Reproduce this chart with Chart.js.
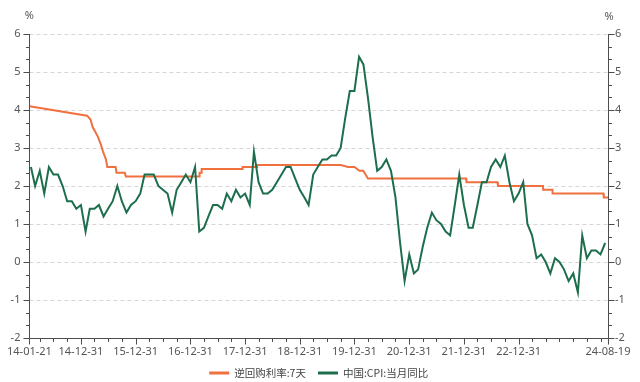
<!DOCTYPE html>
<html><head><meta charset="utf-8">
<script src="https://cdn.jsdelivr.net/npm/chart.js@4/dist/chart.umd.min.js"></script>
<style>html,body{margin:0;padding:0;background:#fff}#wrap{width:640px;height:382px;position:relative}</style>
</head><body><div id="wrap"><canvas id="c" width="640" height="382"></canvas></div>
<script>
const seriesNames = ['逆回购利率:7天', '中国:CPI:当月同比'];
const unitLabel = '%';

const repoDates = ['2014-01-21','2015-02-10','2015-03-05','2015-03-19','2015-04-09','2015-04-23','2015-05-12','2015-05-28','2015-06-16','2015-06-25',
  '2015-08-20','2015-08-25','2015-10-20','2015-10-27','2017-02-28','2017-03-02','2017-03-14','2017-03-16','2017-12-13','2017-12-14',
  '2018-03-21','2018-03-22','2019-10-01','2019-11-18','2019-12-31','2020-02-03','2020-02-28','2020-03-30','2022-01-14','2022-01-17',
  '2022-08-12','2022-08-15','2023-06-12','2023-06-13','2023-08-14','2023-08-15','2024-07-19','2024-07-22','2024-08-19'];
const repoValues = [4.10,3.85,3.75,3.55,3.40,3.30,3.10,2.90,2.70,2.50,
  2.50,2.35,2.35,2.25,2.25,2.35,2.35,2.45,2.45,2.50,
  2.50,2.55,2.55,2.50,2.50,2.40,2.40,2.20,2.20,2.10,
  2.10,2.00,2.00,1.90,1.90,1.80,1.80,1.70,1.70];

const cpiMonths = [
  '2014-01','2014-02','2014-03','2014-04','2014-05','2014-06','2014-07','2014-08','2014-09','2014-10','2014-11','2014-12',
  '2015-01','2015-02','2015-03','2015-04','2015-05','2015-06','2015-07','2015-08','2015-09','2015-10','2015-11','2015-12',
  '2016-01','2016-02','2016-03','2016-04','2016-05','2016-06','2016-07','2016-08','2016-09','2016-10','2016-11','2016-12',
  '2017-01','2017-02','2017-03','2017-04','2017-05','2017-06','2017-07','2017-08','2017-09','2017-10','2017-11','2017-12',
  '2018-01','2018-02','2018-03','2018-04','2018-05','2018-06','2018-07','2018-08','2018-09','2018-10','2018-11','2018-12',
  '2019-01','2019-02','2019-03','2019-04','2019-05','2019-06','2019-07','2019-08','2019-09','2019-10','2019-11','2019-12',
  '2020-01','2020-02','2020-03','2020-04','2020-05','2020-06','2020-07','2020-08','2020-09','2020-10','2020-11','2020-12',
  '2021-01','2021-02','2021-03','2021-04','2021-05','2021-06','2021-07','2021-08','2021-09','2021-10','2021-11','2021-12',
  '2022-01','2022-02','2022-03','2022-04','2022-05','2022-06','2022-07','2022-08','2022-09','2022-10','2022-11','2022-12',
  '2023-01','2023-02','2023-03','2023-04','2023-05','2023-06','2023-07','2023-08','2023-09','2023-10','2023-11','2023-12',
  '2024-01','2024-02','2024-03','2024-04','2024-05','2024-06','2024-07'];
const cpiValues = [
  2.5,2.0,2.4,1.8,2.5,2.3,2.3,2.0,1.6,1.6,1.4,1.5,
  0.8,1.4,1.4,1.5,1.2,1.4,1.6,2.0,1.6,1.3,1.5,1.6,
  1.8,2.3,2.3,2.3,2.0,1.9,1.8,1.3,1.9,2.1,2.3,2.1,
  2.5,0.8,0.9,1.2,1.5,1.5,1.4,1.8,1.6,1.9,1.7,1.8,
  1.5,2.9,2.1,1.8,1.8,1.9,2.1,2.3,2.5,2.5,2.2,1.9,
  1.7,1.5,2.3,2.5,2.7,2.7,2.8,2.8,3.0,3.8,4.5,4.5,
  5.4,5.2,4.3,3.3,2.4,2.5,2.7,2.4,1.7,0.5,-0.5,0.2,
  -0.3,-0.2,0.4,0.9,1.3,1.1,1.0,0.8,0.7,1.5,2.3,1.5,
  0.9,0.9,1.5,2.1,2.1,2.5,2.7,2.5,2.8,2.1,1.6,1.8,
  2.1,1.0,0.7,0.1,0.2,0.0,-0.3,0.1,0.0,-0.2,-0.5,-0.3,
  -0.8,0.7,0.1,0.3,0.3,0.2,0.5];

const xTickDates = ['2014-01-21','2014-12-31','2015-12-31','2016-12-31','2017-12-31','2018-12-31','2019-12-31','2020-12-31','2021-12-31','2022-12-31','2024-08-19'];
const yTicks = [-2,-1,0,1,2,3,4,5,6];

const seriesColors = ['#F0703F', '#1D6E4C'];
const axisColor = '#4d4d4d';
const textColor = '#555555';

function dayNum(s) {
  const p = s.split('-').map(Number);
  return Date.UTC(p[0], p[1] - 1, p[2]) / 864e5;
}
function monthEnd(s) {
  const p = s.split('-').map(Number);
  return Date.UTC(p[0], p[1], 0) / 864e5;
}
const xMin = dayNum(xTickDates[0]);
const xMax = dayNum(xTickDates[xTickDates.length - 1]);
const xLabelMap = {};
xTickDates.forEach(d => { xLabelMap[dayNum(d)] = d.slice(2); });

const tickFont = { family: '"Noto Sans", "Open Sans", sans-serif', size: 11 };

const decor = {
  id: 'decor',
  beforeDatasetsDraw(chart) {
    const { ctx, chartArea: a, scales } = chart;
    const y = scales.y;
    ctx.save();
    ctx.strokeStyle = '#d6d6d6';
    ctx.lineWidth = 1;
    ctx.setLineDash([4, 3]);
    yTicks.forEach(v => {
      if (v === y.min) return;
      const py = Math.round(y.getPixelForValue(v)) + 0.5;
      ctx.beginPath(); ctx.moveTo(a.left, py); ctx.lineTo(a.right, py); ctx.stroke();
    });
    ctx.restore();
  },
  afterDatasetsDraw(chart) {
    const { ctx, chartArea: a, scales } = chart;
    const x = scales.x, y = scales.y;
    const L = Math.round(a.left) + 0.5, R = Math.round(a.right) + 0.5, B = Math.round(a.bottom) + 0.5;
    const T = Math.round(y.getPixelForValue(y.max));
    ctx.save();
    ctx.strokeStyle = axisColor;
    ctx.lineWidth = 1;
    ctx.beginPath();
    ctx.moveTo(L, T); ctx.lineTo(L, B);
    ctx.moveTo(R, T); ctx.lineTo(R, B);
    ctx.moveTo(L, B); ctx.lineTo(R, B);
    ctx.stroke();
    // y ticks (major + 2 minor per unit)
    ctx.beginPath();
    for (let k = 0; k <= (y.max - y.min) * 3; k++) {
      const v = y.min + k / 3;
      const py = Math.round(y.getPixelForValue(v)) + 0.5;
      const len = (k % 3 === 0) ? 6 : 3.5;
      ctx.moveTo(L - len, py); ctx.lineTo(L, py);
      ctx.moveTo(R, py); ctx.lineTo(R + len, py);
    }
    // x ticks: quarterly minor, labelled major
    const majors = xTickDates.map(dayNum);
    majors.forEach(v => {
      const px = Math.round(x.getPixelForValue(v)) + 0.5;
      ctx.moveTo(px, B); ctx.lineTo(px, B + 6);
    });
    for (let yr = 2014; yr <= 2024; yr++) {
      for (const m of [3, 6, 9, 12]) {
        const v = Date.UTC(yr, m, 0) / 864e5;
        if (v <= xMin || v >= xMax || majors.includes(v)) continue;
        const px = Math.round(x.getPixelForValue(v)) + 0.5;
        ctx.moveTo(px, B); ctx.lineTo(px, B + 3.5);
      }
    }
    ctx.stroke();
    // unit labels
    ctx.fillStyle = textColor;
    ctx.font = '11px "Noto Sans", sans-serif';
    ctx.textAlign = 'center';
    ctx.textBaseline = 'middle';
    ctx.fillText(unitLabel, a.left, 16);
    ctx.fillText(unitLabel, a.right + 1, 17);
    // legend
    ctx.font = '10.5px "Noto Sans CJK SC", sans-serif';
    const lineLen = 20, gapText = 5, gapItem = 12;
    const ws = chart.data.datasets.map(d => ctx.measureText(d.label).width);
    const total = ws.reduce((s, w) => s + lineLen + gapText + w, 0) + gapItem * (ws.length - 1);
    let cx = (a.left + a.right) / 2 - total / 2;
    const ly = 373;
    ctx.textAlign = 'left';
    ctx.fillStyle = '#444';
    chart.data.datasets.forEach((d, i) => {
      ctx.strokeStyle = d.borderColor;
      ctx.lineWidth = 3;
      ctx.beginPath(); ctx.moveTo(cx, ly); ctx.lineTo(cx + lineLen, ly); ctx.stroke();
      ctx.fillText(d.label, cx + lineLen + gapText, ly);
      cx += lineLen + gapText + ws[i] + gapItem;
    });
    ctx.restore();
  }
};

new Chart(document.getElementById('c'), {
  type: 'line',
  data: {
    datasets: [
      { label: seriesNames[0], data: repoDates.map((d, i) => ({ x: dayNum(d), y: repoValues[i] })),
        borderColor: seriesColors[0], backgroundColor: seriesColors[0], borderWidth: 2, pointRadius: 0, tension: 0, order: 1 },
      { label: seriesNames[1], data: cpiMonths.map((m, i) => ({ x: monthEnd(m), y: cpiValues[i] })),
        borderColor: seriesColors[1], backgroundColor: seriesColors[1], borderWidth: 2, pointRadius: 0, tension: 0, order: 0 }
    ]
  },
  options: {
    responsive: false,
    animation: false,
    events: [],
    layout: { padding: { top: 34, bottom: 24, left: 0, right: 0 } },
    plugins: { legend: { display: false }, tooltip: { enabled: false } },
    scales: {
      x: {
        type: 'linear', min: xMin, max: xMax,
        afterBuildTicks: s => { s.ticks = xTickDates.map(d => ({ value: dayNum(d) })); },
        afterFit: s => { s.height = 20; },
        grid: { display: false, drawTicks: false },
        border: { display: false },
        ticks: { autoSkip: false, maxRotation: 0, minRotation: 0, padding: 7, color: textColor, font: tickFont,
          callback: v => xLabelMap[v] || '' }
      },
      y: {
        position: 'left', min: -2, max: 6,
        afterBuildTicks: s => { s.ticks = yTicks.map(v => ({ value: v })); },
        afterFit: s => { s.width = 24; },
        grid: { display: false, drawTicks: false },
        border: { display: false },
        ticks: { padding: 9, color: textColor, font: tickFont }
      },
      y2: {
        position: 'right', min: -2, max: 6,
        afterBuildTicks: s => { s.ticks = yTicks.map(v => ({ value: v })); },
        afterFit: s => { s.width = 32; },
        grid: { display: false, drawTicks: false },
        border: { display: false },
        ticks: { padding: 7, color: textColor, font: tickFont }
      }
    }
  },
  plugins: [decor]
});
</script>
</body></html>
